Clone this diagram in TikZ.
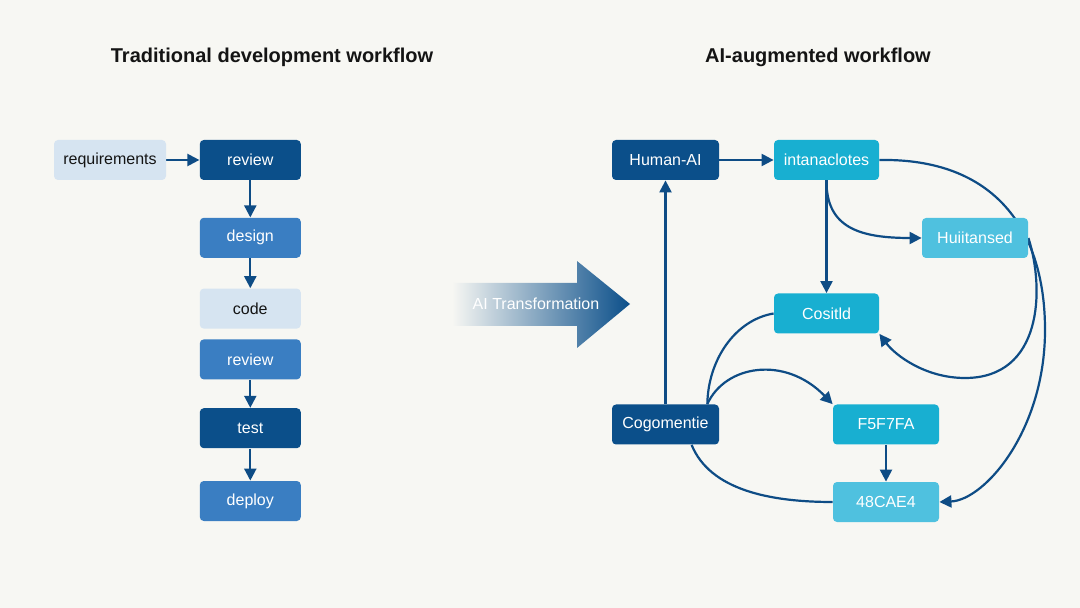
\documentclass[tikz,border=0pt]{standalone}
\usepackage{fontspec}
\setmainfont{Liberation Sans}
\usepackage{tikz}
\usetikzlibrary{arrows.meta, positioning, calc, backgrounds}
\usepackage{xcolor}

\definecolor{bgpaper}{HTML}{F7F7F3}
\definecolor{navy}{HTML}{0B4F8A}
\definecolor{midblue}{HTML}{3A7EC2}
\definecolor{paleblue}{HTML}{D6E4F1}
\definecolor{aquafill}{HTML}{18AFD1}
\definecolor{skyfill}{HTML}{4FC1DF}
\definecolor{linkblue}{HTML}{0E4C85}
\definecolor{inkdark}{HTML}{141414}

\tikzset{
  title/.style={font=\bfseries\fontsize{10}{12}\selectfont, text=inkdark},
  box/.style={rounded corners=2pt, minimum width=50.5pt, minimum height=20pt,
              inner sep=0pt, font=\fontsize{8}{10}\selectfont, text=white},
  navybox/.style={box, fill=navy},
  midbox/.style={box, fill=midblue},
  palebox/.style={box, fill=paleblue, text=inkdark},
  aquabox/.style={box, fill=aquafill, minimum width=53pt},
  skybox/.style={box, fill=skyfill, minimum width=53pt},
  flow/.style={draw=linkblue, line width=1.1pt, -{Triangle[length=6pt,width=6pt]}},
  link/.style={draw=linkblue, line width=1.1pt},
}

\begin{document}
\begin{tikzpicture}[x=0.5pt, y=-0.5pt]
  \useasboundingbox (0,0) rectangle (1080,608);

  % titles
  \node[title] (tradtitle) at (272,57) {Traditional development workflow};
  \node[title] (aititle) at (818,57) {AI-augmented workflow};

  % traditional chain
  \node[palebox, minimum width=56pt] (req) at (110,160) {requirements};
  \node[navybox, right=16.5pt of req] (rev) {review};
  \node[midbox, below=18.5pt of rev] (design) {design};
  \node[palebox, below=15pt of design] (code) {code};
  \node[midbox, below=5pt of code] (recheck) {review};
  \node[navybox, below=14pt of recheck] (test) {test};
  \node[midbox, below=16pt of test] (deploy) {deploy};

  % transformation arrow
  \shade[left color=bgpaper, middle color=navy!75, right color=navy]
    (452,283) -- (577,283) -- (577,261) -- (630,304) -- (577,348)
    -- (577,326) -- (452,326) -- cycle;
  \node[font=\fontsize{8}{10}\selectfont, text=white] (xform) at (536,304) {AI Transformation};

  % ai-augmented graph
  \node[navybox, minimum width=53.5pt] (human) at (665.5,160) {Human-AI};
  \node[aquabox, minimum width=52.5pt] (inta) at (826.5,160) {intanaclotes};
  \node[skybox] (huii) at (975,238) {Huiitansed};
  \node[aquabox, minimum width=52.5pt] (cosi) at (826.5,313.5) {Cositld};
  \node[navybox, minimum width=53.5pt] (cogo) at (665.5,424.5) {Cogomentie};
  \node[aquabox] (fsf) at (886,424.5) {F5F7FA};
  \node[skybox] (cae) at (886,502) {48CAE4};

  \begin{scope}[on background layer]
    \fill[bgpaper] (0,0) rectangle (1080,608);

    \draw[flow] (req) -- (rev);
    \draw[flow] (rev) -- (design);
    \draw[flow] (design) -- (code);
    \draw[flow] (recheck) -- (test);
    \draw[flow] (test) -- (deploy);

    \draw[flow] (human) -- (inta);
    \draw[flow] (cogo) -- (human);
    \draw[flow] (inta) -- (cosi);
    \draw[flow] (fsf) -- (cae);
    \draw[flow] (inta.south) .. controls (826,228) and (860,238) .. (huii.west);
    \draw[flow] (inta.east) .. controls (995,158) and (1045,230) .. (1045,330)
      .. controls (1045,430) and (985,500) .. (cae.east);
    \draw[flow] (huii.east) .. controls (1045,290) and (1042,378) .. (965,378)
      .. controls (925,378) and (895,355) .. (cosi.south east);
    \draw[link] (cosi.west) .. controls (735,320) and (708,360) .. (cogo.26);
    \draw[flow] (cogo.26) .. controls (725,365) and (785,355) .. (fsf.north west);
    \draw[link] (cogo.-38) .. controls (710,490) and (770,502) .. (cae.west);
  \end{scope}
\end{tikzpicture}
\end{document}
